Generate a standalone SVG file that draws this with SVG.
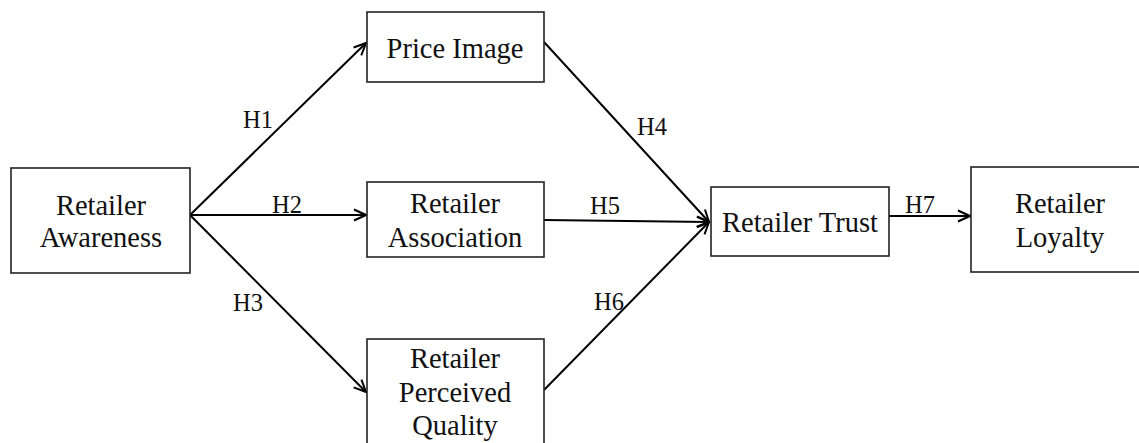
<svg xmlns="http://www.w3.org/2000/svg" width="1139" height="443" viewBox="0 0 1139 443">
  <defs>
    <style>
      .box { fill: #ffffff; stroke: #222222; stroke-width: 1.6; }
      .lbl { font-size: 28.5px; fill: #111111; text-anchor: middle; }
      .hyp { font-size: 24.5px; fill: #111111; }
      .edge { stroke: #000000; stroke-width: 2; fill: none; marker-end: url(#arrow); }
    </style>
    <marker id="arrow" viewBox="0 0 14 14" refX="13" refY="7" markerWidth="14" markerHeight="14" markerUnits="userSpaceOnUse" orient="auto">
      <path d="M1,1.5 L13,7 L1,12.5" fill="none" stroke="#000000" stroke-width="2"/>
    </marker>
  </defs>

  <rect width="1139" height="443" fill="#ffffff"/>

  <g font-family="Liberation Serif, Times New Roman, DejaVu Serif, serif">
  <g id="connectors">
    <line class="edge" x1="190" y1="215" x2="366" y2="43"/>
    <line class="edge" x1="190" y1="215" x2="366" y2="215"/>
    <line class="edge" x1="190" y1="215" x2="366" y2="392"/>
    <line class="edge" x1="544" y1="42" x2="709" y2="222"/>
    <line class="edge" x1="544" y1="220" x2="709" y2="222"/>
    <line class="edge" x1="544" y1="390" x2="709" y2="222"/>
    <line class="edge" x1="889" y1="216" x2="970" y2="216"/>
    <text class="hyp" x="243" y="128">H1</text>
    <text class="hyp" x="272" y="213">H2</text>
    <text class="hyp" x="233" y="311">H3</text>
    <text class="hyp" x="637" y="135">H4</text>
    <text class="hyp" x="590" y="214">H5</text>
    <text class="hyp" x="594" y="310">H6</text>
    <text class="hyp" x="905" y="213">H7</text>
  </g>

  <g id="awareness">
    <rect class="box" x="11" y="168" width="179" height="105"/>
    <text class="lbl" x="101" y="215">Retailer</text>
    <text class="lbl" x="101" y="247">Awareness</text>
  </g>

  <g id="price-image">
    <rect class="box" x="367" y="12" width="177" height="70"/>
    <text class="lbl" x="455" y="58">Price Image</text>
  </g>

  <g id="association">
    <rect class="box" x="367" y="182" width="177" height="75"/>
    <text class="lbl" x="455" y="213">Retailer</text>
    <text class="lbl" x="455" y="247">Association</text>
  </g>

  <g id="perceived-quality">
    <rect class="box" x="367" y="339" width="177" height="110"/>
    <text class="lbl" x="455" y="368">Retailer</text>
    <text class="lbl" x="455" y="402">Perceived</text>
    <text class="lbl" x="455" y="435">Quality</text>
  </g>

  <g id="trust">
    <rect class="box" x="711" y="187" width="178" height="69"/>
    <text class="lbl" x="800" y="232">Retailer Trust</text>
  </g>

  <g id="loyalty">
    <rect class="box" x="971" y="167" width="178" height="105"/>
    <text class="lbl" x="1060" y="213">Retailer</text>
    <text class="lbl" x="1060" y="247">Loyalty</text>
  </g>
  </g>
</svg>
